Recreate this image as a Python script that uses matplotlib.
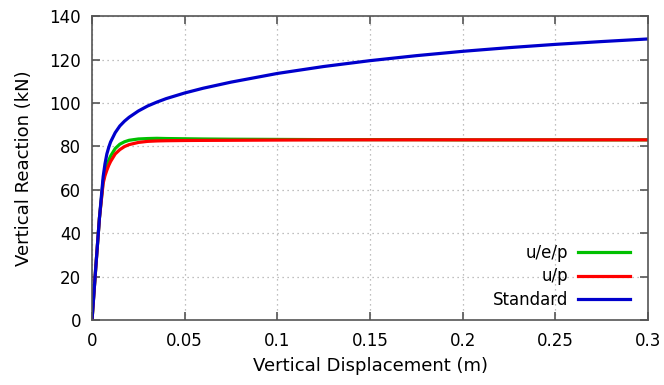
import matplotlib
matplotlib.use("Agg")
import matplotlib.pyplot as plt

x = [0, 0.002, 0.004, 0.006, 0.007, 0.008, 0.009, 0.01, 0.0125, 0.015, 0.0175, 0.02,
     0.025, 0.03, 0.035, 0.04, 0.05, 0.06, 0.075, 0.1, 0.125, 0.15, 0.175, 0.2,
     0.225, 0.25, 0.275, 0.3]
standard = [0, 24, 47, 66, 72, 76.5, 79.5, 82, 86.3, 89.4, 91.6, 93.4, 96.3, 98.6,
            100.4, 102, 104.6, 106.8, 109.6, 113.6, 116.8, 119.5, 121.8, 123.8,
            125.5, 127, 128.3, 129.5]
uep = [0, 24, 47, 64, 68, 71, 73.5, 75.5, 79, 81, 82.1, 82.8, 83.4, 83.6, 83.7,
       83.6, 83.5, 83.4, 83.3, 83.2, 83.1, 83.1, 83.1, 83, 83, 83, 83, 83]
up = [0, 24, 47, 63, 66.5, 69, 71.2, 73, 76.5, 78.5, 79.9, 80.8, 81.8, 82.3, 82.5,
      82.6, 82.7, 82.75, 82.8, 82.9, 83, 83, 83, 83, 83, 83, 83, 83]
xticks = [0, 0.05, 0.1, 0.15, 0.2, 0.25, 0.3]
xticklabels = ["0", "0.05", "0.1", "0.15", "0.2", "0.25", "0.3"]
yticks = [0, 20, 40, 60, 80, 100, 120, 140]

plt.rcParams['font.family'] = ['DejaVu Sans']
fig = plt.figure(figsize=(6.64, 3.85), dpi=100)
ax = fig.add_axes([0.1386, 0.169, 0.976 - 0.1386, 0.958 - 0.169])

ax.plot(x, uep, color='#00c000', lw=2.3, label='u/e/p')
ax.plot(x, up, color='#ff0000', lw=2.3, label='u/p')
ax.plot(x, standard, color='#0000cc', lw=2.3, label='Standard')

ax.set_xlim(0, 0.3)
ax.set_ylim(0, 140)
ax.set_xticks(xticks)
ax.set_xticklabels(xticklabels)
ax.set_yticks(yticks)
ax.tick_params(direction='in', length=6, width=1.2, color='#555555',
               top=True, right=True, labelsize=12)
ax.tick_params(axis='x', pad=9)
ax.tick_params(axis='y', pad=8)
for s in ax.spines.values():
    s.set_color('#555555')
    s.set_linewidth(1.2)
ax.grid(True, linestyle=(0, (1, 3)), color='#aaaaaa', linewidth=0.9)
ax.set_xlabel('Vertical Displacement (m)', fontsize=13, labelpad=5)
ax.set_ylabel('Vertical Reaction (kN)', fontsize=13, labelpad=12)

leg = ax.legend(loc='lower right', frameon=False, markerfirst=False, fontsize=12,
                handlelength=3.1, handletextpad=0.6, labelspacing=0.33,
                borderaxespad=0.0, borderpad=0.0,
                bbox_to_anchor=(1 - 18 / 556, 11 / 304))
for t in leg.get_texts():
    t.set_ha('right')

fig.savefig('out.png', dpi=100)
